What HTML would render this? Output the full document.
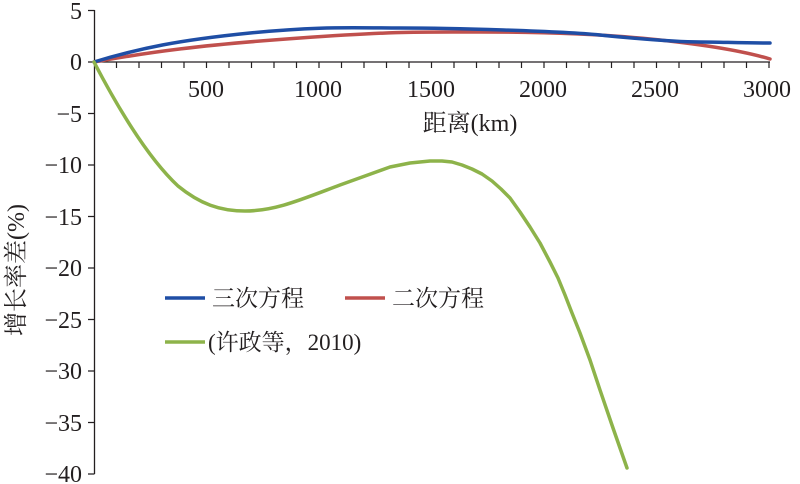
<!DOCTYPE html><html><head><style>body{margin:0;background:#fff}svg{display:block}text{font-family:"Liberation Serif","Times New Roman","Noto Serif CJK SC",serif;fill:#231f20}</style></head><body>
<svg width="800" height="484" viewBox="0 0 800 484">
<g stroke="#231f20" stroke-width="1.3" fill="none">
<line x1="94.5" y1="10" x2="94.5" y2="474"/>
<line x1="94" y1="62" x2="770" y2="62"/>
<path d="M88 10.5H94.5M88 62H94.5M88 113.5H94.5M88 165H94.5M88 216.5H94.5M88 268H94.5M88 319.5H94.5M88 371H94.5M88 422.5H94.5M88 474H94.5"/>
</g>
<g font-size="24" text-anchor="end">
<text x="82" y="19">5</text><text x="82" y="70">0</text><text x="82" y="122">−5</text><text x="82" y="173">−10</text><text x="82" y="225">−15</text><text x="82" y="276">−20</text><text x="82" y="328">−25</text><text x="82" y="379">−30</text><text x="82" y="431">−35</text><text x="82" y="482">−40</text>
</g>
<g font-size="24" text-anchor="middle">
<text x="206" y="97">500</text><text x="318" y="97">1000</text><text x="431" y="97">1500</text><text x="543" y="97">2000</text><text x="655" y="97">2500</text><text x="767" y="97">3000</text>
<text x="470" y="131">距离(km)</text>
<text transform="translate(24,270) rotate(-90)">增长率差(%)</text>
</g>
<g fill="none" stroke-width="3.5" stroke-linejoin="round" stroke-linecap="round">
<path stroke="#c0504d" d="M94 62 C150 52 200 45 300 38 S420 32 480 32 S600 34 650 39 S740 50 770 59"/>
<path stroke="#1f4ea5" d="M94 62 C140 48 180 40 250 33 S350 28 400 28 S560 31 600 35 S680 42 700 42 S740 43 770 43"/>
<path stroke="#8db34a" d="M94 62 C118 108 148 158 178 186 C200 204 220 211 245 211 C275 211 300 200 340 185 L365 176 L390 167 L410 163 L420 162 L430 161 L442 161 L452 162 L462 165 L472 169 L482 174 L492 181 L501 189 L510 198 L520 212 L530 227 L540 243 L550 262 L558 278 L565 295 L572 313 L580 333 L590 360 L600 390 L613 428 L627 468"/>
</g>
<g stroke-width="3.5"><line x1="165" y1="298" x2="205" y2="298" stroke="#1f4ea5"/><line x1="345" y1="298" x2="385" y2="298" stroke="#c0504d"/><line x1="165" y1="342" x2="205" y2="342" stroke="#8db34a"/></g>
<g font-size="23"><text x="212" y="306">三次方程</text><text x="392" y="306">二次方程</text><text x="208" y="350">(许政等，2010)</text></g>
<g stroke="#231f20" stroke-width="1.2">
<path d="M116.5 62v6M139 62v6M161.5 62v6M184 62v6M206.5 62v6M229 62v6M251.5 62v6M274 62v6M296.5 62v6M319 62v6M341.5 62v6M364 62v6M386.5 62v6M409 62v6M431.5 62v6M454 62v6M476.5 62v6M499 62v6M521.5 62v6M544 62v6M566.5 62v6M589 62v6M611.5 62v6M634 62v6M656.5 62v6M679 62v6M701.5 62v6M724 62v6M746.5 62v6M769 62v6"/>
</g>
</svg></body></html>
